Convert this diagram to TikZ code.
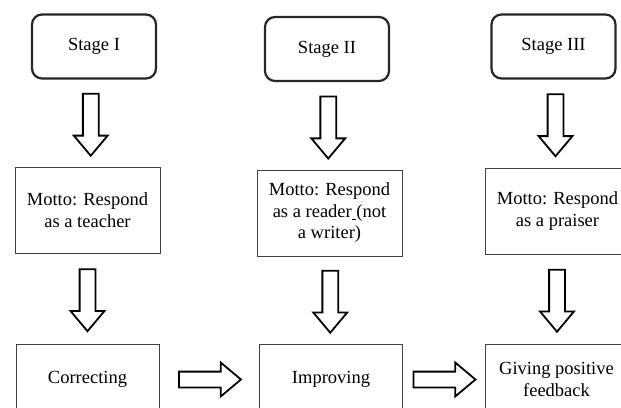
\documentclass[tikz,border=0pt]{standalone}
\usepackage{fontspec}
\setmainfont{Liberation Serif}
\usepackage{tikz}
\usetikzlibrary{calc}
\usetikzlibrary{shapes.arrows}

\tikzset{
  stagebox/.style={draw=black!85, line width=2.2pt, rounded corners=10pt, inner sep=0pt, align=center,
    minimum width=124pt, minimum height=64pt},
  mottobox/.style={draw=black!75, line width=1pt, inner sep=0pt, align=center,
    minimum width=145pt, minimum height=86pt},
  taskbox/.style={draw=black!75, line width=1pt, inner sep=0pt, align=center,
    minimum width=143pt, minimum height=71pt},
  hollowarrow/.style={single arrow, draw=black, line width=1.8pt, fill=white, inner sep=7pt,
    single arrow head extend=9pt, single arrow tip angle=80, minimum height=62pt}
}

\begin{document}
\begin{tikzpicture}[x=1pt, y=-1pt, font=\fontsize{18.5}{21.5}\selectfont]
    \useasboundingbox (0,0) rectangle (621,407);
    \clip (0,0) rectangle (621,407);
    % stages
    \node[stagebox] (stageI) at (94,46.5) {Stage I};
    \node[stagebox] (stageII) at (327,49) {Stage II};
    \node[stagebox] (stageIII) at (553.5,46.5) {Stage III};
    % mottos
    \node[mottobox] (mottoI) at (87.5,210) {Motto: Respond\\as a teacher};
    \node[mottobox] (mottoII) at (329.5,213) {Motto: Respond\\as a reader\underline{\hspace{0.25em}}(not\\a writer)};
    \node[mottobox] (mottoIII) at (557.5,211) {Motto: Respond\\as a praiser};
    % tasks
    \node[taskbox] (correct) at (87.5,379.5) {Correcting};
    \node[taskbox] (improve) at (331,379.5) {Improving};
    \node[taskbox] (praise) at (556.5,379.5) {Giving positive\\feedback};
    % arrows
    \path (stageI.south) -- (mottoI.north) node[midway, yshift=3pt, hollowarrow, rotate=-90] {};
    \path (stageII.south) -- (mottoII.north) node[midway, yshift=3pt, hollowarrow, rotate=-90] {};
    \path (stageIII.south) -- (mottoIII.north) node[midway, yshift=3pt, hollowarrow, rotate=-90] {};
    \path (mottoI.south) -- (correct.north) node[midway, yshift=3pt, hollowarrow, rotate=-90] {};
    \path (mottoII.south) -- (improve.north) node[midway, yshift=3pt, hollowarrow, rotate=-90] {};
    \path (mottoIII.south) -- (praise.north) node[midway, yshift=3pt, hollowarrow, rotate=-90] {};
    \path (correct.east) -- (improve.west) node[midway, xshift=-4pt, hollowarrow] {};
    \path (improve.east) -- (praise.west) node[midway, xshift=-4pt, hollowarrow] {};
\end{tikzpicture}
\end{document}
